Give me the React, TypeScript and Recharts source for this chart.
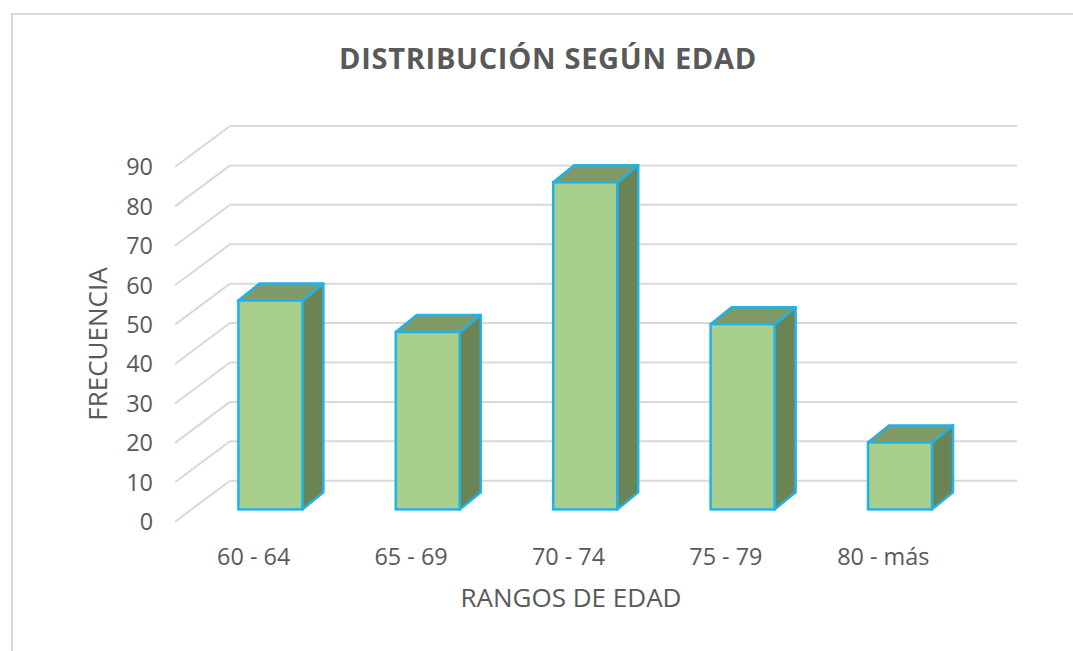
import React from 'react';
import { BarChart, Bar, XAxis, YAxis, CartesianGrid } from 'recharts';

const categories = ['60 - 64', '65 - 69', '70 - 74', '75 - 79', '80 - más'];
const frecuencia = [53, 45, 83, 47, 17];
const yTicks = [0, 10, 20, 30, 40, 50, 60, 70, 80, 90];

const data = categories.map((rango, i) => ({ rango, frecuencia: frecuencia[i] }));

// 3D depth of the back wall and the bars (pixels)
const WALL_DX = 55;
const WALL_DY = -41;
const BAR_OFF_X = 16.5;
const BAR_OFF_Y = -12.3;
const BAR_DX = 21;
const BAR_DY = -17;

const TEXT = '#595959';
const FONT = '"Open Sans", sans-serif';

const Bar3D = (props: any) => {
  const { x, y, width, height } = props;
  const fx = x + BAR_OFF_X;
  const fy = y + BAR_OFF_Y;
  const w = width;
  const h = height;
  const stroke = '#22b2e6';
  return (
    <g>
      <polygon
        points={`${fx + w},${fy} ${fx + w + BAR_DX},${fy + BAR_DY} ${fx + w + BAR_DX},${fy + h + BAR_DY} ${fx + w},${fy + h}`}
        fill="#6b8456"
        stroke={stroke}
        strokeWidth={2.5}
        strokeLinejoin="round"
      />
      <polygon
        points={`${fx},${fy} ${fx + BAR_DX},${fy + BAR_DY} ${fx + w + BAR_DX},${fy + BAR_DY} ${fx + w},${fy}`}
        fill="#7f9a66"
        stroke={stroke}
        strokeWidth={2.5}
        strokeLinejoin="round"
      />
      <rect x={fx} y={fy} width={w} height={h} fill="#a9cf8c" stroke={stroke} strokeWidth={2.5} />
    </g>
  );
};

const gridLine = (props: any) => {
  const { x1, y1, x2 } = props;
  return (
    <g key={`grid-${y1}`}>
      <line x1={x1} y1={y1} x2={x1 + WALL_DX} y2={y1 + WALL_DY} stroke="#d9d9d9" strokeWidth={2} />
      <line x1={x1 + WALL_DX} y1={y1 + WALL_DY} x2={x2 + WALL_DX} y2={y1 + WALL_DY} stroke="#d9d9d9" strokeWidth={2} />
    </g>
  );
};

const App: React.FC = () => {
  return (
    <div style={{ position: 'absolute', left: 0, top: 0, width: 1073, height: 651, background: '#fff' }}>
      <div
        style={{
          position: 'absolute',
          left: 11,
          top: 13,
          width: 1080,
          height: 660,
          borderLeft: '2px solid #d9d9d9',
          borderTop: '2px solid #d9d9d9',
        }}
      />
      <BarChart
        width={1073}
        height={651}
        data={data}
        margin={{ top: 167, right: 111, left: 0, bottom: 99.3 }}
        barCategoryGap="29.8%"
        style={{ position: 'absolute', left: 0, top: 0 }}
      >
        <CartesianGrid vertical={false} horizontal={gridLine} />
        <XAxis
          dataKey="rango"
          height={30}
          axisLine={false}
          tickLine={false}
          tickSize={6}
          tickMargin={21}
          tick={{ fill: TEXT, fontSize: 23.4, fontFamily: FONT }}
          interval={0}
        />
        <YAxis
          width={175}
          domain={[0, 90]}
          ticks={yTicks}
          axisLine={false}
          tickLine={false}
          tickSize={6}
          tickMargin={16}
          tick={{ fill: TEXT, fontSize: 23.4, fontFamily: FONT }}
          interval={0}
        />
        <Bar dataKey="frecuencia" shape={(p: any) => <Bar3D {...p} />} isAnimationActive={false} />
        <text
          x={548}
          y={69}
          textAnchor="middle"
          fill={TEXT}
          fontFamily={FONT}
          fontSize={29}
          fontWeight="bold"
          letterSpacing={0.7}
        >
          DISTRIBUCIÓN SEGÚN EDAD
        </text>
        <text x={571} y={607} textAnchor="middle" fill={TEXT} fontFamily={FONT} fontSize={26}>
          RANGOS DE EDAD
        </text>
        <text
          x={0}
          y={0}
          transform="translate(107, 344) rotate(-90)"
          textAnchor="middle"
          fill={TEXT}
          fontFamily={FONT}
          fontSize={26}
        >
          FRECUENCIA
        </text>
      </BarChart>
    </div>
  );
};

export default App;
